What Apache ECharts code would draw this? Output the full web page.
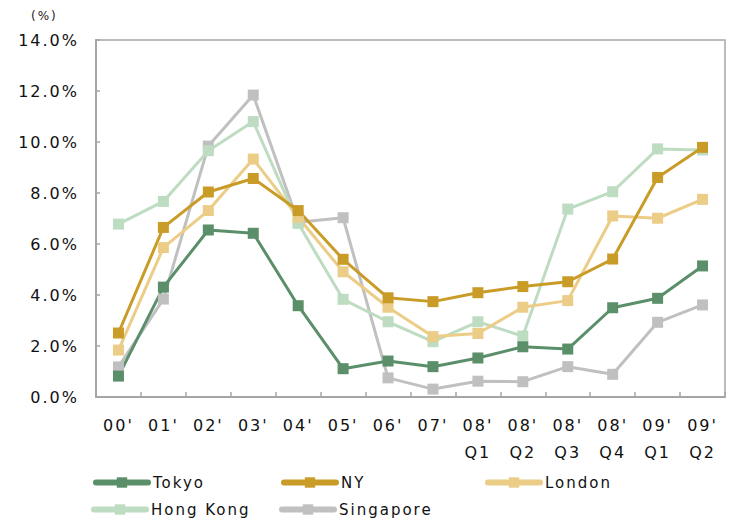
<!DOCTYPE html>
<html>
<head>
<meta charset="utf-8">
<script src="https://cdn.jsdelivr.net/npm/echarts@6/dist/echarts.min.js"></script>
<style>
  html, body { margin: 0; padding: 0; background: #fff; }
  #chart { width: 735px; height: 518px; }
  /* wide tracking on all chart text */
  #chart svg text { letter-spacing: 2px; }
</style>
</head>
<body>
<div id="chart"></div>
<script>
// Period labels (x axis)
const categories = ["00'", "01'", "02'", "03'", "04'", "05'", "06'", "07'",
  "08'\nQ1", "08'\nQ2", "08'\nQ3", "08'\nQ4", "09'\nQ1", "09'\nQ2"];

// Y axis ticks (%)
const yTicks = [0, 2, 4, 6, 8, 10, 12, 14];

// Rates by city (%)
const tokyo     = [0.82, 4.31, 6.55, 6.42, 3.58, 1.11, 1.41, 1.19, 1.53, 1.97, 1.88, 3.50, 3.87, 5.14];
const newYork   = [2.51, 6.65, 8.04, 8.57, 7.31, 5.40, 3.89, 3.74, 4.09, 4.33, 4.52, 5.41, 8.61, 9.79];
const london    = [1.84, 5.86, 7.31, 9.33, 7.05, 4.91, 3.52, 2.37, 2.49, 3.52, 3.78, 7.10, 7.01, 7.75];
const hongKong  = [6.78, 7.67, 9.66, 10.80, 6.81, 3.83, 2.95, 2.17, 2.95, 2.39, 7.37, 8.05, 9.73, 9.69];
const singapore = [1.18, 3.84, 9.84, 11.84, 6.85, 7.03, 0.75, 0.31, 0.62, 0.60, 1.19, 0.89, 2.93, 3.61];

const FONT = "'DejaVu Sans', Verdana, sans-serif";

function lineSeries(name, data, color) {
  return {
    name: name,
    type: 'line',
    data: data,
    symbol: 'rect',
    symbolSize: 11,
    color: color,
    lineStyle: { width: 3, color: color },
    itemStyle: { color: color },
    emphasis: { disabled: true },
    animation: false
  };
}

function legendAt(name, left, top) {
  return {
    data: [name],
    left: left,
    top: top,
    padding: 0,
    orient: 'horizontal',
    itemWidth: 52,
    itemHeight: 13,
    itemGap: 0,
    selectedMode: false,
    lineStyle: { width: 6, cap: 'round' },
    textStyle: { fontFamily: FONT, fontSize: 15, color: '#111' }
  };
}

const chart = echarts.init(document.getElementById('chart'), null, { renderer: 'svg' });

chart.setOption({
  backgroundColor: '#ffffff',
  animation: false,
  grid: {
    left: 96, right: 10, top: 40, bottom: 121,
    show: true, borderColor: '#a6a6a6', borderWidth: 1.5, backgroundColor: 'transparent'
  },
  graphic: [{
    type: 'text', left: 31, top: 10,
    style: { text: '(%)', fontFamily: FONT, fontSize: 12, fill: '#222' }
  }],
  legend: [
    legendAt('Tokyo', 93, 475),
    legendAt('NY', 281, 475),
    legendAt('London', 485, 475),
    legendAt('Hong Kong', 91, 502),
    legendAt('Singapore', 279, 502)
  ],
  xAxis: {
    type: 'category',
    data: categories,
    boundaryGap: true,
    axisLine: { lineStyle: { color: '#a6a6a6', width: 2 } },
    axisTick: { show: true, inside: true, length: 5, alignWithLabel: false, lineStyle: { color: '#a6a6a6', width: 1.5 } },
    axisLabel: {
      interval: 0, margin: 15, fontFamily: FONT, fontSize: 16, color: '#111', lineHeight: 27
    },
    splitLine: { show: false }
  },
  yAxis: {
    type: 'value',
    min: yTicks[0],
    max: yTicks[yTicks.length - 1],
    interval: 2,
    axisLine: { show: true, lineStyle: { color: '#a6a6a6', width: 2 } },
    axisTick: { show: true, inside: true, length: 4, lineStyle: { color: '#a6a6a6', width: 1.5 } },
    axisLabel: {
      margin: 17, fontFamily: FONT, fontSize: 16, color: '#111',
      formatter: v => v.toFixed(1) + '%'
    },
    splitLine: { show: false }
  },
  // drawing order: later series sit on top
  series: [
    lineSeries('Singapore', singapore, '#c0c0c0'),
    lineSeries('Hong Kong', hongKong, '#bddcc1'),
    lineSeries('London', london, '#ebcd87'),
    lineSeries('Tokyo', tokyo, '#5b8f69'),
    lineSeries('NY', newYork, '#c99c28')
  ]
});
</script>
</body>
</html>
